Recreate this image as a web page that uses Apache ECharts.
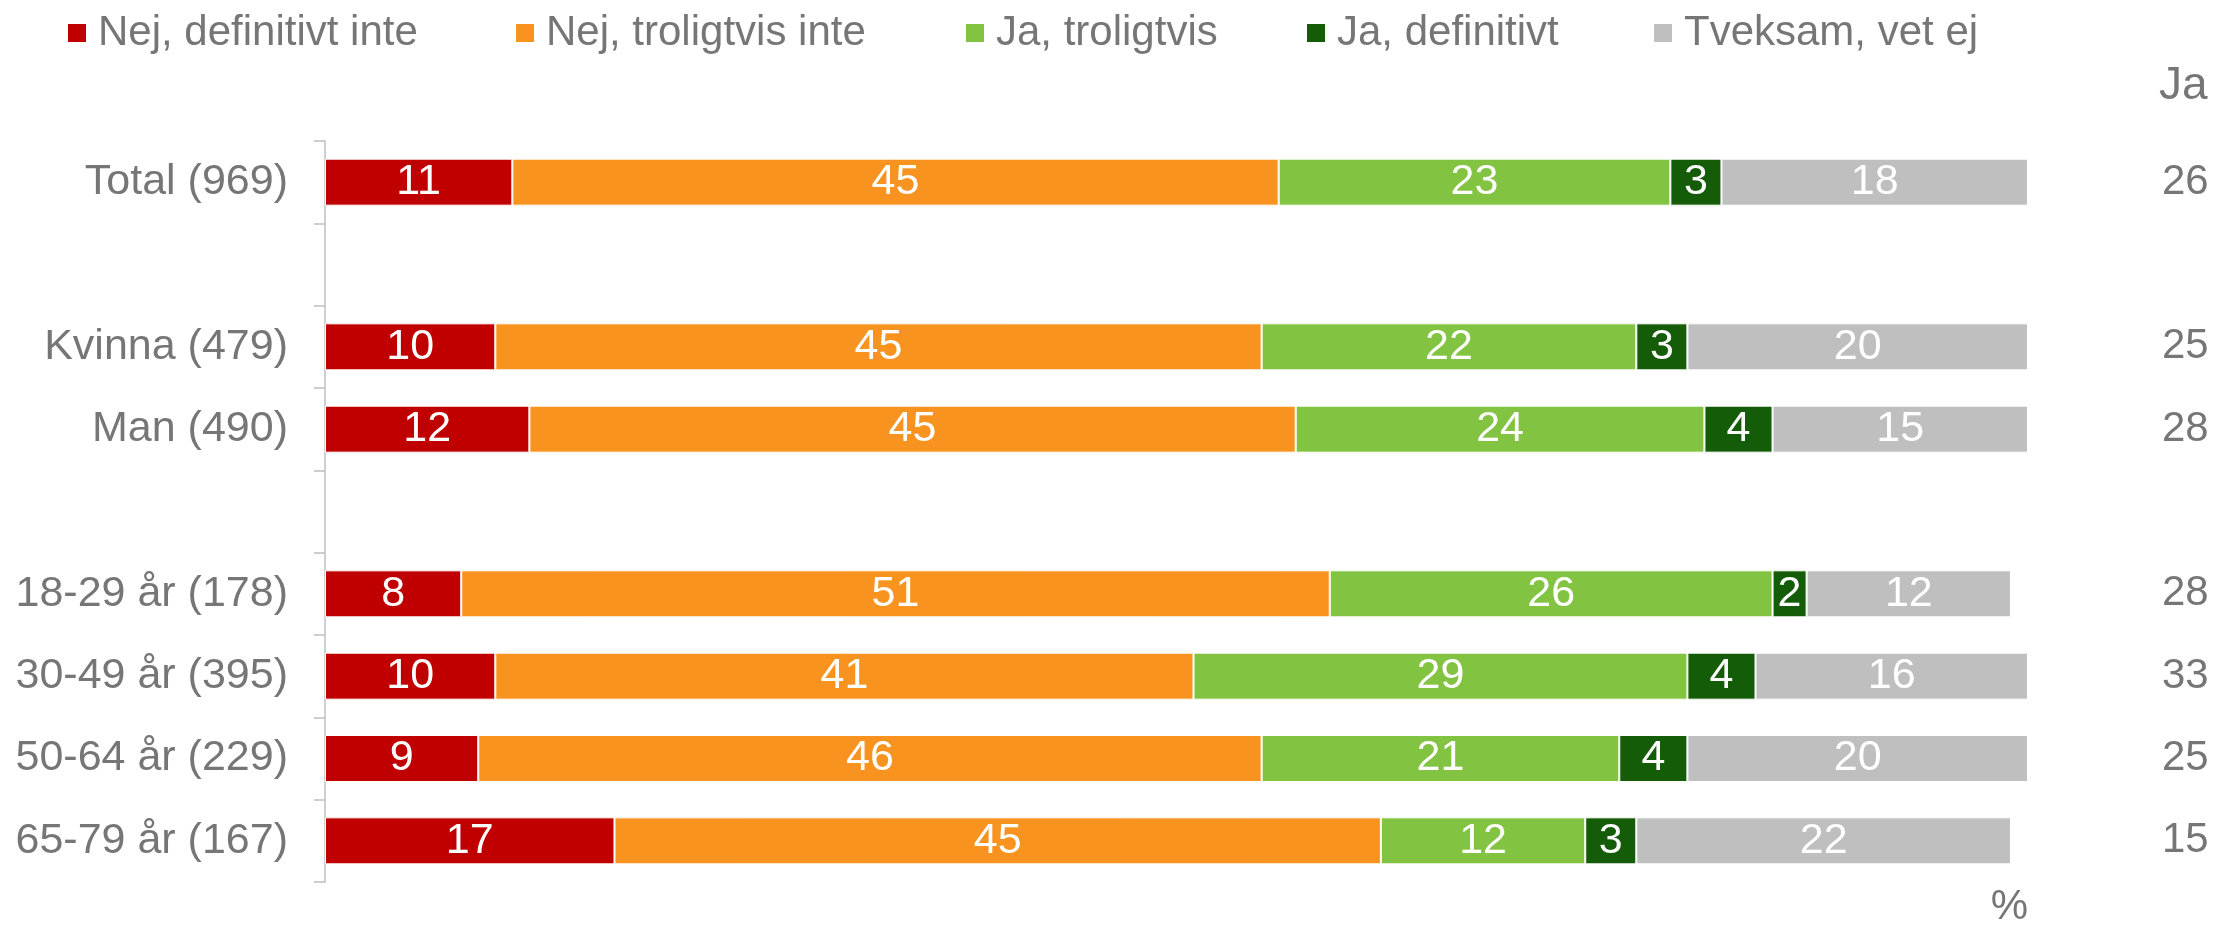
<!DOCTYPE html>
<html>
<head>
<meta charset="utf-8">
<title>Ja / Nej</title>
<script src="https://cdn.jsdelivr.net/npm/echarts@6/dist/echarts.min.js"></script>
<style>
  html, body { margin: 0; padding: 0; background: #fff; }
  #chart { width: 2213px; height: 927px; }
</style>
</head>
<body>
<div id="chart"></div>
<script>
// grupper (tomma rader = mellanrum)
const categories = ['Total (969)', '', 'Kvinna (479)', 'Man (490)', ' ',
  '18-29 år (178)', '30-49 år (395)', '50-64 år (229)', '65-79 år (167)'];

const nejDefinitivt = [11, '-', 10, 12, '-', 8, 10, 9, 17];
const nejTroligtvis = [45, '-', 45, 45, '-', 51, 41, 46, 45];
const jaTroligtvis  = [23, '-', 22, 24, '-', 26, 29, 21, 12];
const jaDefinitivt  = [3, '-', 3, 4, '-', 2, 4, 4, 3];
const tveksam       = [18, '-', 20, 15, '-', 12, 16, 20, 22];

// summa ja, högerkolumnen
const jaSumma = ['26', '', '25', '28', '', '28', '33', '25', '15'];

const seriesNames = ['Nej, definitivt inte', 'Nej, troligtvis inte', 'Ja, troligtvis', 'Ja, definitivt', 'Tveksam, vet ej'];
const seriesData = [nejDefinitivt, nejTroligtvis, jaTroligtvis, jaDefinitivt, tveksam];
const colors = ['#C00000', '#F7931E', '#82C341', '#145C07', '#BFBFBF'];
const legendLeft = [66, 514, 964, 1305, 1652];

const textGray = '#767676';
const font = "'Liberation Sans', Arial, sans-serif";

const chart = echarts.init(document.getElementById('chart'));

chart.setOption({
    animation: false,
    color: colors,
    textStyle: { fontFamily: font },
    title: [
        { text: 'Ja', left: 2159, top: 63, padding: 0,
          textStyle: { fontSize: 46, fontWeight: 'normal', color: textGray, fontFamily: font } },
        { text: '%', right: 185, top: 886, padding: 0,
          textStyle: { fontSize: 42, fontWeight: 'normal', color: textGray, fontFamily: font } }
    ],
    legend: seriesNames.map((name, i) => ({
        data: [name],
        left: legendLeft[i],
        top: 12,
        padding: 0,
        icon: 'rect',
        itemWidth: 20,
        itemHeight: 20,
        textStyle: { fontSize: 42, color: textGray, fontFamily: font, padding: [0, 0, 0, 6] }
    })),
    grid: { left: 325, right: 185, top: 141, bottom: 45, containLabel: false },
    xAxis: {
        type: 'value', min: 0, max: 100, show: false
    },
    yAxis: [
        {
            type: 'category',
            data: categories,
            inverse: true,
            axisLine: { show: true, lineStyle: { color: '#BFBFBF', width: 1.5 } },
            axisTick: { show: true, interval: 0, inside: false, length: 11, lineStyle: { color: '#BFBFBF', width: 1.5 } },
            axisLabel: { fontSize: 43, color: textGray, margin: 37, fontFamily: font }
        },
        {
            type: 'category',
            data: categories,
            inverse: true,
            position: 'right',
            axisLine: { show: false },
            axisTick: { show: false },
            axisLabel: {
                fontSize: 42, color: textGray, margin: 134, fontFamily: font,
                padding: [0, 0, 10, 0],
                formatter: (v, idx) => jaSumma[idx]
            }
        }
    ],
    series: seriesNames.map((name, i) => ({
        name: name,
        type: 'bar',
        stack: 'total',
        barWidth: 47,
        data: seriesData[i],
        itemStyle: { borderColor: '#fff', borderWidth: 1 },
        label: {
            show: true,
            position: 'inside',
            color: '#fff',
            fontSize: 43,
            fontFamily: font
        }
    }))
});
</script>
</body>
</html>
